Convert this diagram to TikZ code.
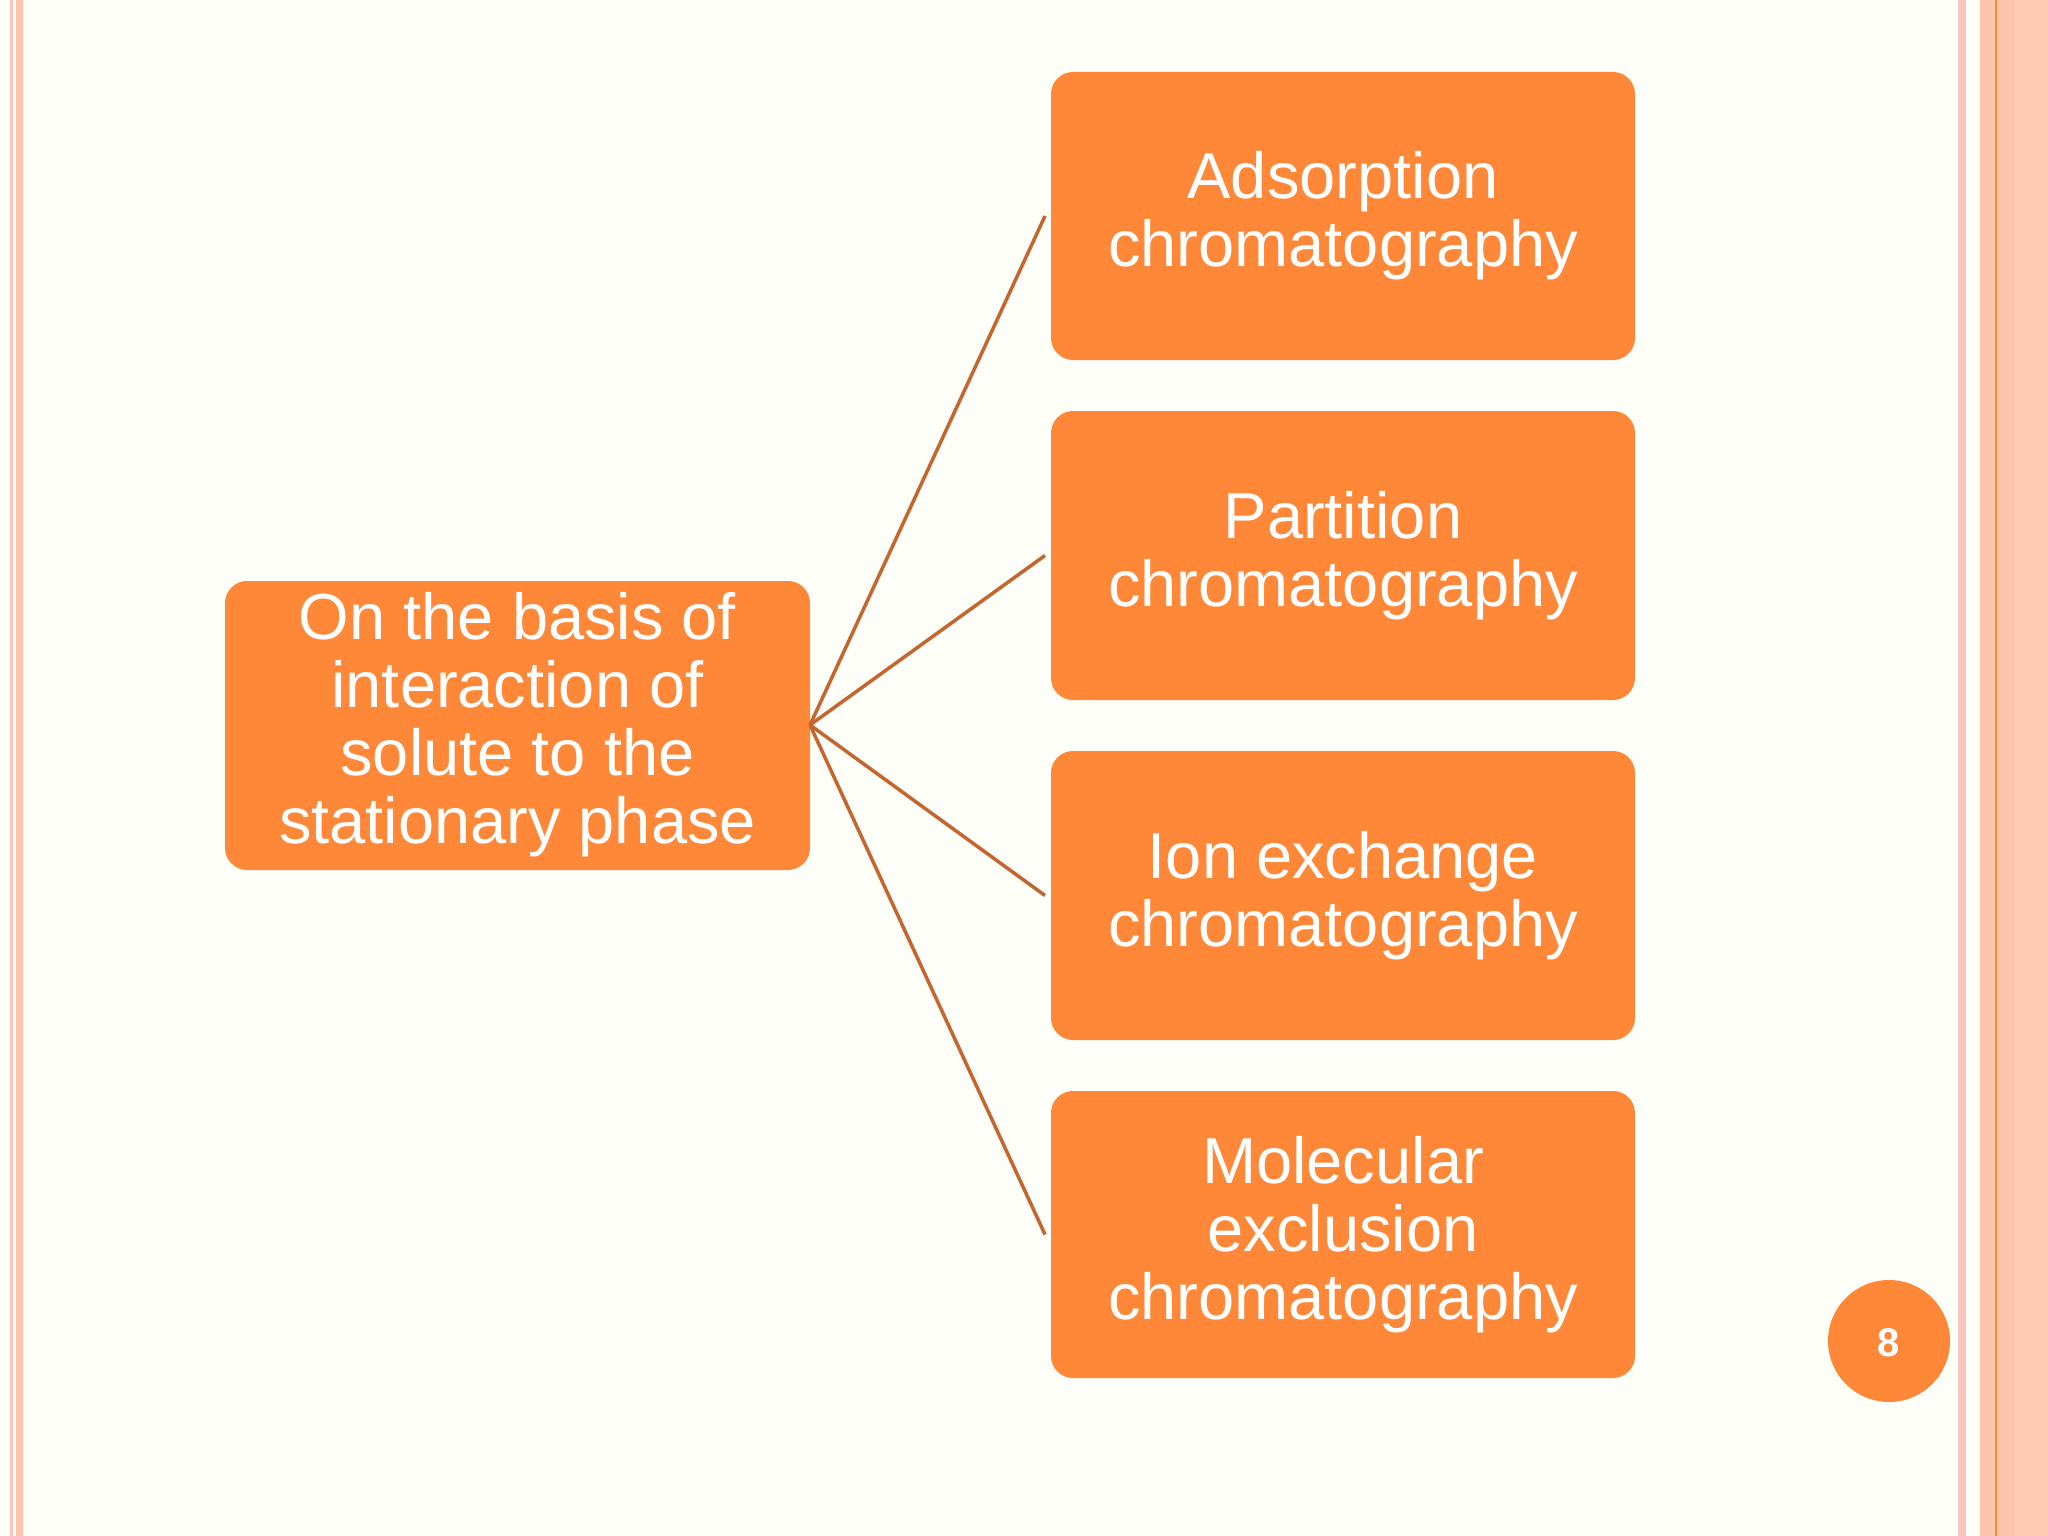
\documentclass[tikz,border=0pt]{standalone}
\usepackage{fontspec}
\setmainfont{Liberation Sans}
\begin{document}
\begin{tikzpicture}[x=1pt,y=-1pt,
  box/.style={fill=boxc,rounded corners=22pt,text=white,align=center,font=\fontsize{65}{68}\selectfont,inner sep=0pt},
  link/.style={draw=linkc,line width=3.5pt}]
\definecolor{boxc}{HTML}{FE8838}
\definecolor{linkc}{HTML}{C4662E}
\definecolor{pk}{HTML}{FBC4BC}
\definecolor{pc}{HTML}{FDC5AE}
\definecolor{pl}{HTML}{FECAB4}
\fill[white!98!yellow] (0,0) rectangle (2048,1536);
\useasboundingbox (0,0) rectangle (2048,1536);
\fill[pk] (10,0) rectangle (13,1536);
\fill[pc] (16,0) rectangle (23,1536);
\fill[pk] (1958,0) rectangle (1966,1536);
\fill[pc] (1980,0) rectangle (2015,1536);
\fill[boxc] (1995,0) rectangle (1997,1536);
\fill[pl] (2015,0) rectangle (2048,1536);
\path[box] (225,581) rectangle (810,870);
\node[text=white,align=center,font=\fontsize{65}{68}\selectfont] (src) at (517.5,725) {On the basis of\\interaction of\\solute to the\\stationary phase};
\coordinate (s) at (810,725);
\foreach \n/\t/\b/\txt in {a/72/360/{Adsorption\\chromatography},
  b/411/700/{Partition\\chromatography},
  c/751/1040/{Ion exchange\\chromatography},
  d/1091/1378/{Molecular\\exclusion\\chromatography}}{
  \path[box] (1051,\t) rectangle (1635,\b);
  \node[text=white,align=center,font=\fontsize{65}{68}\selectfont] (\n) at (1343,{(\t+\b)/2}) {\txt};
  \coordinate (\n e) at (1045,{(\t+\b)/2});
  \draw[link] (s) -- (\n e);
}
\fill[boxc] (1889,1341) circle (61);
\node[text=white,font=\fontsize{40}{40}\selectfont\bfseries] (pg) at (1889,1343) {8};
\end{tikzpicture}
\end{document}
